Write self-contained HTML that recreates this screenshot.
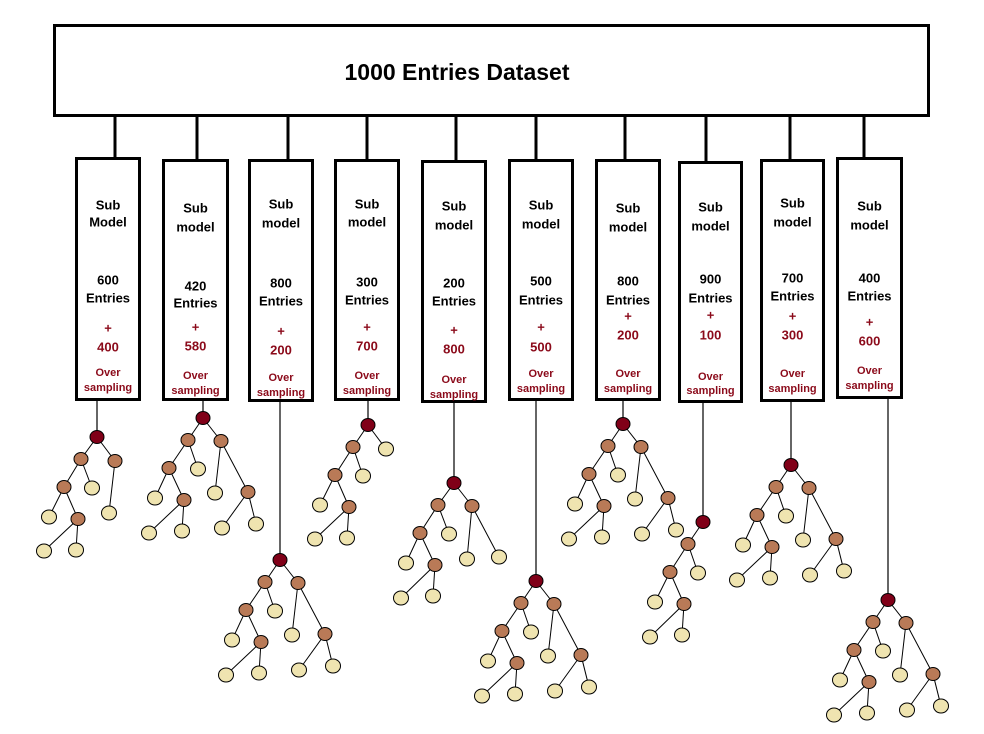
<!DOCTYPE html>
<html><head><meta charset="utf-8"><style>
html,body{margin:0;padding:0;background:#fff;}
svg{display:block;}
text{font-family:"Liberation Sans",sans-serif;font-weight:bold;text-anchor:middle;dominant-baseline:central;}
.b{font-size:13px;fill:#000;}
.r{font-size:13px;fill:#8b0a1a;}
.s{font-size:11px;fill:#8b0a1a;font-weight:bold;}
</style></head><body>
<svg id="s" width="984" height="734" viewBox="0 0 984 734" xmlns="http://www.w3.org/2000/svg">
<rect x="54.5" y="25.5" width="874" height="90" fill="#fff" stroke="#000" stroke-width="3"/>
<text x="457" y="72" style="font-size:23px">1000 Entries Dataset</text>
<g id="boxes"></g>
<g id="trees"></g>
</svg>
<script>
var NS="http://www.w3.org/2000/svg";
function el(p,t,a,txt){var e=document.createElementNS(NS,t);for(var k in a)e.setAttribute(k,a[k]);if(txt!==undefined)e.textContent=txt;p.appendChild(e);return e;}
var boxes=[
[75,157,141,401,115,97,"Sub","Model","600","400",[205,222,280,298,328,347,373,388]],
[162,159,229,401,197,203,"Sub","model","420","580",[208,227,286,303,327,346,376,391]],
[248,159,314,402,288,280,"Sub","model","800","200",[204,223,283,301,331,350,378,393]],
[334,159,400,401,367,368,"Sub","model","300","700",[204,222,282,300,327,346,376,391]],
[421,160,487,403,456,454,"Sub","model","200","800",[206,225,283,301,330,349,380,395]],
[508,159,574,401,536,537,"Sub","model","500","500",[205,224,281,300,327,347,374,389]],
[595,159,661,401,625,623,"Sub","model","800","200",[208,227,281,300,316,335,374,389]],
[678,161,743,403,706,703,"Sub","model","900","100",[207,226,279,298,315,335,377,391]],
[760,159,825,402,790,791,"Sub","model","700","300",[203,222,278,296,316,335,374,389]],
[836,157,903,399,864,888,"Sub","model","400","600",[206,225,278,296,322,341,371,386]]
];
var roots=[[97,437],[203,418],[280,560],[368,425],[454,483],[536,581],[623,424],[703,522],[791,465],[888,600]];
var shapes={
A:{n:[[0,0,0],[-16,22,1],[18,24,1],[-33,50,1],[-5,51,2],[12,76,2],[-48,80,2],[-19,82,1],[-53,114,2],[-21,113,2]],e:[[0,1],[0,2],[1,3],[1,4],[2,5],[3,6],[3,7],[7,8],[7,9]]},
D:{n:[[0,0,0],[-15,22,1],[18,24,2],[-33,50,1],[-5,51,2],[-48,80,2],[-19,82,1],[-53,114,2],[-21,113,2]],e:[[0,1],[0,2],[1,3],[1,4],[3,5],[3,6],[6,7],[6,8]]},
B:{n:[[0,0,0],[-15,22,1],[18,23,1],[-34,50,1],[-5,51,2],[12,75,2],[45,74,1],[-48,80,2],[-19,82,1],[-54,115,2],[-21,113,2],[19,110,2],[53,106,2]],e:[[0,1],[0,2],[1,3],[1,4],[2,5],[2,6],[3,7],[3,8],[8,9],[8,10],[6,11],[6,12]]},
E:{n:[[0,0,0],[-16,22,1],[18,23,1],[-34,50,1],[-5,51,2],[13,76,2],[45,74,2],[-48,80,2],[-19,82,1],[-53,115,2],[-21,113,2]],e:[[0,1],[0,2],[1,3],[1,4],[2,5],[2,6],[3,7],[3,8],[8,9],[8,10]]},
C:{n:[[0,0,0],[-15,22,1],[-33,50,1],[-5,51,2],[-48,80,2],[-19,82,1],[-53,115,2],[-21,113,2]],e:[[0,1],[1,2],[1,3],[2,4],[2,5],[5,6],[5,7]]}
};
var shapeOf=["A","B","B","D","E","B","B","C","B","B"];
var fills=["#800018","#b97a57","#efe4b0"];
var g=document.getElementById("boxes"),tg=document.getElementById("trees");
boxes.forEach(function(b,i){
 var x1=b[0],y1=b[1],x2=b[2],y2=b[3],cx=(x1+x2)/2,ys=b[10];
 el(g,"line",{x1:b[4],y1:116,x2:b[4],y2:y1,stroke:"#000","stroke-width":3});
 el(g,"rect",{x:x1+1.5,y:y1+1.5,width:x2-x1-3,height:y2-y1-3,fill:"#fff",stroke:"#000","stroke-width":3});
 el(g,"text",{x:cx,y:ys[0],"class":"b"},b[6]);
 el(g,"text",{x:cx,y:ys[1],"class":"b"},b[7]);
 el(g,"text",{x:cx,y:ys[2],"class":"b"},b[8]);
 el(g,"text",{x:cx,y:ys[3],"class":"b"},"Entries");
 el(g,"text",{x:cx,y:ys[4],"class":"r"},"+");
 el(g,"text",{x:cx,y:ys[5],"class":"r"},b[9]);
 el(g,"text",{x:cx,y:ys[6],"class":"s"},"Over");
 el(g,"text",{x:cx,y:ys[7],"class":"s"},"sampling");
 var r=roots[i];
 el(tg,"line",{x1:r[0],y1:y2,x2:r[0],y2:r[1],stroke:"#000","stroke-width":1.2});
 var sh=shapes[shapeOf[i]];
 sh.e.forEach(function(e){var a=sh.n[e[0]],c=sh.n[e[1]];
  el(tg,"line",{x1:r[0]+a[0],y1:r[1]+a[1],x2:r[0]+c[0],y2:r[1]+c[1],stroke:"#000","stroke-width":1});});
 sh.n.forEach(function(n){
  el(tg,"ellipse",{cx:r[0]+n[0],cy:r[1]+n[1],rx:n[2]==2?7.5:7,ry:n[2]==2?7:6.5,fill:fills[n[2]],stroke:"#000","stroke-width":1});});
});
</script>
</body></html>
